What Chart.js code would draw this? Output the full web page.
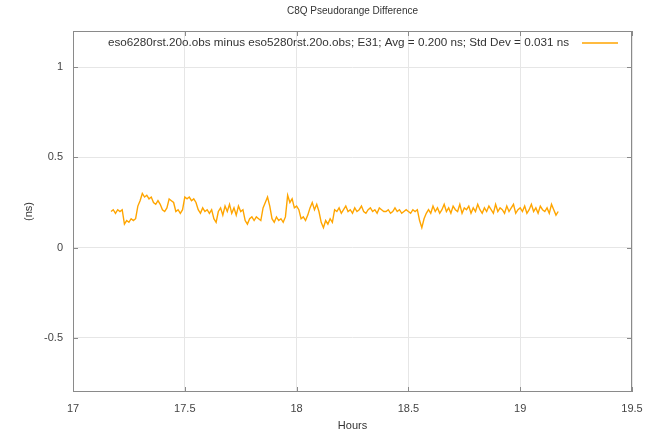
<!DOCTYPE html>
<html>
<head>
<meta charset="utf-8">
<script src="https://cdn.jsdelivr.net/npm/chart.js@4/dist/chart.umd.min.js"></script>
<style>
  html, body { margin: 0; padding: 0; background: #fff; }
  #wrap { width: 658px; height: 434px; }
</style>
</head>
<body>
<div id="wrap"><canvas id="chart"></canvas></div>
<script>
// data
var chartTitle = "C8Q Pseudorange Difference";
var seriesLabel = "eso6280rst.20o.obs minus eso5280rst.20o.obs; E31; Avg = 0.200 ns; Std Dev = 0.031 ns";

var hours = [
  17.17, 17.18, 17.19, 17.20, 17.21, 17.22, 17.23, 17.24, 17.25, 17.26,
  17.27, 17.28, 17.29, 17.30, 17.31, 17.32, 17.33, 17.34, 17.35, 17.36,
  17.37, 17.38, 17.39, 17.40, 17.41, 17.42, 17.43, 17.44, 17.45, 17.46,
  17.47, 17.48, 17.49, 17.50, 17.51, 17.52, 17.53, 17.54, 17.55, 17.56,
  17.57, 17.58, 17.59, 17.60, 17.61, 17.62, 17.63, 17.64, 17.65, 17.66,
  17.67, 17.68, 17.69, 17.70, 17.71, 17.72, 17.73, 17.74, 17.75, 17.76,
  17.77, 17.78, 17.79, 17.80, 17.81, 17.82, 17.83, 17.84, 17.85, 17.86,
  17.87, 17.88, 17.89, 17.90, 17.91, 17.92, 17.93, 17.94, 17.95, 17.96,
  17.97, 17.98, 17.99, 18.00, 18.01, 18.02, 18.03, 18.04, 18.05, 18.06,
  18.07, 18.08, 18.09, 18.10, 18.11, 18.12, 18.13, 18.14, 18.15, 18.16,
  18.17, 18.18, 18.19, 18.20, 18.21, 18.22, 18.23, 18.24, 18.25, 18.26,
  18.27, 18.28, 18.29, 18.30, 18.31, 18.32, 18.33, 18.34, 18.35, 18.36,
  18.37, 18.38, 18.39, 18.40, 18.41, 18.42, 18.43, 18.44, 18.45, 18.46,
  18.47, 18.48, 18.49, 18.50, 18.51, 18.52, 18.53, 18.54, 18.55, 18.56,
  18.57, 18.58, 18.59, 18.60, 18.61, 18.62, 18.63, 18.64, 18.65, 18.66,
  18.67, 18.68, 18.69, 18.70, 18.71, 18.72, 18.73, 18.74, 18.75, 18.76,
  18.77, 18.78, 18.79, 18.80, 18.81, 18.82, 18.83, 18.84, 18.85, 18.86,
  18.87, 18.88, 18.89, 18.90, 18.91, 18.92, 18.93, 18.94, 18.95, 18.96,
  18.97, 18.98, 18.99, 19.00, 19.01, 19.02, 19.03, 19.04, 19.05, 19.06,
  19.07, 19.08, 19.09, 19.10, 19.11, 19.12, 19.13, 19.14, 19.15, 19.16,
  19.17
];

var diffNs = [
  0.20, 0.21, 0.19, 0.21, 0.20, 0.21, 0.13, 0.15, 0.14, 0.16,
  0.15, 0.16, 0.23, 0.26, 0.30, 0.28, 0.29, 0.27, 0.28, 0.25,
  0.24, 0.26, 0.24, 0.21, 0.20, 0.22, 0.27, 0.26, 0.25, 0.20,
  0.21, 0.19, 0.21, 0.28, 0.27, 0.28, 0.26, 0.27, 0.25, 0.21,
  0.19, 0.22, 0.20, 0.21, 0.19, 0.21, 0.16, 0.14, 0.20, 0.22,
  0.18, 0.23, 0.20, 0.24, 0.19, 0.22, 0.18, 0.23, 0.20, 0.21,
  0.15, 0.13, 0.16, 0.17, 0.15, 0.17, 0.16, 0.15, 0.22, 0.25,
  0.28, 0.23, 0.16, 0.14, 0.17, 0.15, 0.16, 0.14, 0.17, 0.29,
  0.25, 0.27, 0.22, 0.23, 0.21, 0.16, 0.17, 0.15, 0.18, 0.22,
  0.25, 0.21, 0.24, 0.20, 0.14, 0.11, 0.15, 0.13, 0.16, 0.14,
  0.21, 0.20, 0.22, 0.19, 0.21, 0.23, 0.20, 0.21, 0.19, 0.22,
  0.20, 0.21, 0.23, 0.20, 0.19, 0.21, 0.22, 0.20, 0.21, 0.19,
  0.22, 0.21, 0.20, 0.20, 0.21, 0.19, 0.20, 0.22, 0.20, 0.21,
  0.19, 0.20, 0.21, 0.20, 0.19, 0.21, 0.20, 0.21, 0.15, 0.11,
  0.16, 0.19, 0.21, 0.19, 0.23, 0.20, 0.22, 0.19, 0.21, 0.24,
  0.20, 0.22, 0.19, 0.23, 0.21, 0.20, 0.24, 0.19, 0.22, 0.21,
  0.23, 0.19, 0.22, 0.20, 0.24, 0.21, 0.19, 0.22, 0.20, 0.23,
  0.21, 0.19, 0.24, 0.20, 0.22, 0.21, 0.19, 0.23, 0.20, 0.22,
  0.24, 0.19, 0.21, 0.22, 0.20, 0.23, 0.19, 0.21, 0.24, 0.20,
  0.22, 0.19, 0.23, 0.21, 0.20, 0.22, 0.19, 0.24, 0.21, 0.18,
  0.20
];

var xTicks = [17, 17.5, 18, 18.5, 19, 19.5];
var yTicks = [-0.5, 0, 0.5, 1];

var points = hours.map(function (h, i) { return { x: h, y: diffNs[i] }; });

var FONT = "'Liberation Sans', Arial, sans-serif";
var LINE_COLOR = "#ffa500";

// gnuplot-ish frame, inward ticks, title and key
var gnuplotLook = {
  id: "gnuplotLook",
  afterDraw: function (chart) {
    var ctx = chart.ctx;
    var a = chart.chartArea;
    var xs = chart.scales.x, ys = chart.scales.y;
    ctx.save();
    ctx.strokeStyle = "#8a8a8a";
    ctx.lineWidth = 1;
    ctx.strokeRect(a.left + 0.5, a.top + 0.5, a.right - a.left - 1, a.bottom - a.top - 1);
    ctx.beginPath();
    xTicks.forEach(function (v) {
      var px = Math.round(xs.getPixelForValue(v)) + 0.5;
      ctx.moveTo(px, a.bottom); ctx.lineTo(px, a.bottom - 5);
      ctx.moveTo(px, a.top); ctx.lineTo(px, a.top + 5);
    });
    yTicks.forEach(function (v) {
      var py = Math.round(ys.getPixelForValue(v)) + 0.5;
      ctx.moveTo(a.left, py); ctx.lineTo(a.left + 5, py);
      ctx.moveTo(a.right, py); ctx.lineTo(a.right - 5, py);
    });
    ctx.stroke();

    ctx.fillStyle = "#333";
    ctx.textBaseline = "middle";
    ctx.textAlign = "center";
    ctx.font = "10px " + FONT;
    ctx.fillText(chartTitle, (a.left + a.right) / 2, 11);

    ctx.textAlign = "right";
    ctx.font = "11.7px " + FONT;
    ctx.fillText(seriesLabel, a.right - 63, a.top + 12);
    ctx.strokeStyle = LINE_COLOR;
    ctx.lineWidth = 1.5;
    ctx.beginPath();
    ctx.moveTo(a.right - 50, a.top + 12);
    ctx.lineTo(a.right - 14, a.top + 12);
    ctx.stroke();
    ctx.restore();
  }
};

function plainNum(v) { return String(v); }

new Chart(document.getElementById("chart"), {
  type: "line",
  data: {
    datasets: [{
      label: seriesLabel,
      data: points,
      borderColor: LINE_COLOR,
      borderWidth: 1.4,
      pointRadius: 0,
      tension: 0
    }]
  },
  options: {
    responsive: true,
    maintainAspectRatio: false,
    animation: false,
    layout: { padding: { top: 31, right: 26, bottom: 0, left: 0 } },
    plugins: {
      legend: { display: false },
      title: { display: false },
      tooltip: { enabled: false }
    },
    scales: {
      x: {
        type: "linear",
        min: 17,
        max: 19.5,
        afterBuildTicks: function (s) { s.ticks = xTicks.map(function (v) { return { value: v }; }); },
        afterFit: function (s) { s.height = 42; },
        grid: { color: "#e6e6e6", tickLength: 0, drawTicks: false },
        border: { display: false },
        ticks: { color: "#444", font: { family: FONT, size: 11 }, padding: 10, maxRotation: 0, callback: plainNum },
        title: { display: true, text: "Hours", color: "#333", font: { family: FONT, size: 11 }, padding: { top: 0, bottom: 1 } }
      },
      y: {
        min: -0.8,
        max: 1.2,
        afterBuildTicks: function (s) { s.ticks = yTicks.map(function (v) { return { value: v }; }); },
        afterFit: function (s) { s.width = 73; },
        grid: { color: "#e6e6e6", tickLength: 0, drawTicks: false },
        border: { display: false },
        ticks: { color: "#444", font: { family: FONT, size: 11 }, padding: 10, callback: plainNum },
        title: { display: true, text: "(ns)", color: "#333", font: { family: FONT, size: 11 }, padding: { top: 22, bottom: 0 } }
      }
    }
  },
  plugins: [gnuplotLook]
});
</script>
</body>
</html>
